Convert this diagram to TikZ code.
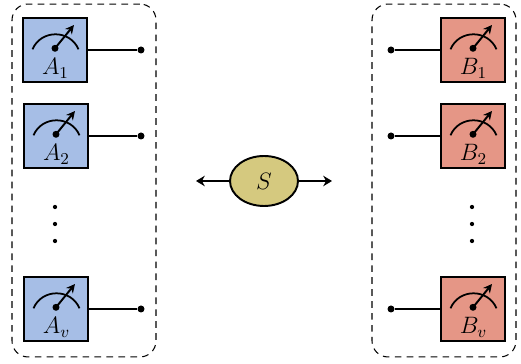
\documentclass[tikz,border=0pt]{standalone}
\usepackage{fix-cm}
\usepackage{amsmath}
\usetikzlibrary{
  arrows.meta,
  shapes.geometric,
  calc
}
\definecolor{meterblue}{HTML}{A6BEE6}
\definecolor{meterred}{HTML}{E59686}
\definecolor{sourcegold}{HTML}{D5C97F}
\tikzset{
  party/.style={
    draw, dash pattern=on 3.8pt off 3pt, line width=0.6pt, rounded corners=0.32cm,
    minimum width=2.88cm, minimum height=7.06cm, inner sep=0pt
  },
  meter/.style={
    draw, line width=1.1pt, minimum size=1.28cm, inner sep=0pt
  },
  terminal/.style={
    circle, fill, inner sep=0pt, minimum size=0.14cm
  },
  vdot/.style={
    circle, fill, inner sep=0pt, minimum size=0.085cm
  },
  wire/.style={
    line width=1.1pt
  },
  bigmath/.style={
    font=\fontsize{13.5}{15}\selectfont, inner sep=0pt
  },
  pics/gauge/.style={
    code={
      \draw [line width=1pt] (-22.5,-0.7) .. controls (-14,-20.7) and (15,-20.7) .. (23.5,-0.7);
      \node [terminal] (-pivot) at (0,-1.7) {};
      \draw [line width=1.1pt, -{Stealth[length=5pt,width=5pt]}] (-pivot.center) -- (19,-25);
    }
  }
}

\begin{document}
\begin{tikzpicture}[x=0.02cm, y=-0.02cm]
\useasboundingbox (0,0) rectangle (521,364);
\node [party] (alice) at (84,180.5) {};
\node [party] (bob) at (444,180.5) {};
% left side
\foreach \name/\x/\y/\lab in {a1/55/50/A_1, a2/56/136/A_2, av/56/309/A_v} {
  \node [meter, fill=meterblue] (\name) at (\x,\y) {};
  \pic (\name g) at (\name.center) {gauge};
  \node [bigmath] (\name l) at ($(\name.center)+(0.5,18.5)$) {$\lab$};
  \node [terminal] (\name t) at (141,\y) {};
  \draw [wire] (\name) -- (\name t);
}
% right side
\foreach \name/\y/\lab in {b1/50/B_1, b2/136/B_2, bv/309/B_v} {
  \node [meter, fill=meterred] (\name) at (473,\y) {};
  \pic (\name g) at (\name.center) {gauge};
  \node [bigmath] (\name l) at ($(\name.center)+(0.5,18.5)$) {$\lab$};
  \node [terminal] (\name t) at (391,\y) {};
  \draw [wire] (\name) -- (\name t);
}
\foreach \name/\x in {l/55, r/472} {
  \node [vdot] (\name d1) at (\x,207) {};
  \node [vdot] (\name d2) at (\x,224) {};
  \node [vdot] (\name d3) at (\x,241) {};
}
% source
\node [ellipse, draw, line width=1.1pt, fill=sourcegold, minimum width=1.36cm, minimum height=1cm, inner sep=0pt, bigmath] (src) at (264,181) {$S$};
\coordinate (srcl) at (196,181);
\coordinate (srcr) at (332,181);
\draw [wire, -{Stealth[length=5pt,width=6pt]}] (src) -- (srcl);
\draw [wire, -{Stealth[length=5pt,width=6pt]}] (src) -- (srcr);
\end{tikzpicture}
\end{document}
